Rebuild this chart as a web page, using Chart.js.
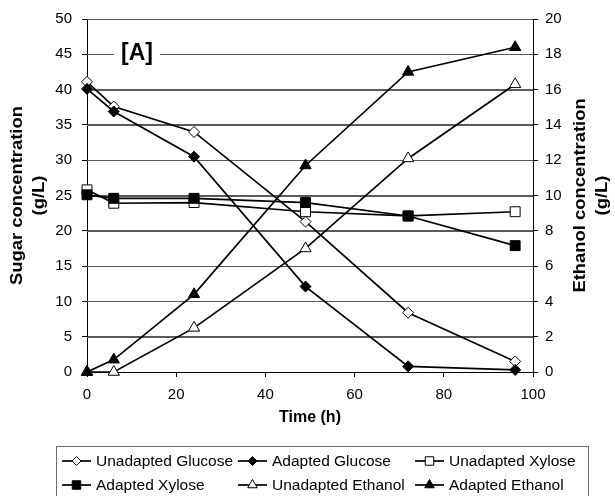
<!DOCTYPE html>
<html>
<head>
<meta charset="utf-8">
<script src="https://cdn.jsdelivr.net/npm/chart.js@4"></script>
<style>
  html, body { margin: 0; padding: 0; background: #fff; }
  #wrap { width: 615px; height: 496px; position: relative; }
</style>
</head>
<body>
<div id="wrap"><canvas id="c" width="615" height="496"></canvas></div>
<script>
// ---- data ----
const hours = [0, 6, 24, 49, 72, 96];
const unadaptedGlucose = [41.1, 37.6, 34.0, 21.3, 8.4, 1.5];
const adaptedGlucose   = [40.1, 36.9, 30.5, 12.1, 0.8, 0.3];
const unadaptedXylose  = [25.8, 23.9, 24.0, 22.7, 22.1, 22.7];
const adaptedXylose    = [25.1, 24.6, 24.6, 24.0, 22.1, 17.9];
const unadaptedEthanol = [0, 0, 2.5, 7.0, 12.1, 16.3];
const adaptedEthanol   = [0, 0.7, 4.4, 11.7, 17.0, 18.4];

const seriesLabels = ['Unadapted Glucose', 'Adapted Glucose', 'Unadapted Xylose',
                      'Adapted Xylose', 'Unadapted Ethanol', 'Adapted Ethanol'];
const timeTicks = [0, 20, 40, 60, 80, 100];
const sugarTicks = [0, 5, 10, 15, 20, 25, 30, 35, 40, 45, 50];
const ethanolTicks = [0, 2, 4, 6, 8, 10, 12, 14, 16, 18, 20];
const xTitle = 'Time (h)';
const leftTitle = ['Sugar concentration', '(g/L)'];
const rightTitle = ['Ethanol concentration', '(g/L)'];
const panelLabel = '[A]';

// ---- styling ----
const FONT = '"Liberation Sans", Arial, sans-serif';
const GRID = '#5a5a5a';
const styles = [
  { pointStyle: 'rectRot', fill: '#ffffff', radius: 5.5, legendRadius: 4.5, axis: 'y' },
  { pointStyle: 'rectRot', fill: '#000000', radius: 5.5, legendRadius: 4.5, axis: 'y' },
  { pointStyle: 'rect', fill: '#ffffff', radius: 7, legendRadius: 6, axis: 'y' },
  { pointStyle: 'rect', fill: '#000000', radius: 7, legendRadius: 6, axis: 'y' },
  { pointStyle: 'triangle', fill: '#ffffff', radius: 6.5, legendRadius: 5.5, axis: 'y1' },
  { pointStyle: 'triangle', fill: '#000000', radius: 6.5, legendRadius: 5.5, axis: 'y1' }
];
const seriesValues = [unadaptedGlucose, adaptedGlucose, unadaptedXylose,
                      adaptedXylose, unadaptedEthanol, adaptedEthanol];

const datasets = seriesValues.map((vals, i) => ({
  label: seriesLabels[i],
  data: hours.map((h, j) => ({ x: h, y: vals[j] })),
  yAxisID: styles[i].axis,
  borderColor: '#000',
  borderWidth: 1.7,
  pointStyle: styles[i].pointStyle,
  pointRadius: styles[i].radius,
  pointBackgroundColor: styles[i].fill,
  pointBorderColor: '#000',
  pointBorderWidth: 1,
  tension: 0,
  fill: false,
  clip: false,
  order: 6 - i
}));

function fixTicks(arr) {
  return function (scale) { scale.ticks = arr.map(v => ({ value: v })); };
}

// horizontal gridlines from the left scale, plus the panel label
const gridPlugin = {
  id: 'gridPlugin',
  beforeDatasetsDraw(chart) {
    const ctx = chart.ctx;
    const ca = chart.chartArea;
    const ys = chart.scales.y;
    ctx.save();
    ctx.globalAlpha = 1;
    ctx.setLineDash([]);
    ctx.globalCompositeOperation = 'source-over';
    ctx.strokeStyle = GRID;
    ctx.lineWidth = 1;
    for (const v of sugarTicks) {
      if (v === 0) continue;
      const py = Math.round(ys.getPixelForValue(v)) + 0.5;
      ctx.beginPath();
      ctx.moveTo(ca.left, py);
      ctx.lineTo(ca.right, py);
      ctx.stroke();
    }
    ctx.font = 'bold 23px ' + FONT;
    ctx.textAlign = 'center';
    ctx.textBaseline = 'middle';
    const yLabel = ys.getPixelForValue(45);
    const lw = ctx.measureText(panelLabel).width;
    ctx.fillStyle = '#fff';
    ctx.fillRect(137 - lw / 2 - 7, yLabel - 14, lw + 14, 28);
    ctx.fillStyle = '#000';
    ctx.fillText(panelLabel, 137, yLabel - 1);
    ctx.restore();
  }
};

const overlay = {
  id: 'overlay',
  afterDraw(chart) {
    const ctx = chart.ctx;
    const ca = chart.chartArea;
    ctx.save();
    ctx.fillStyle = '#000';
    ctx.textAlign = 'center';
    ctx.textBaseline = 'middle';

    ctx.font = 'bold 16px ' + FONT;
    ctx.fillText(xTitle, (ca.left + ca.right) / 2, 418);

    const cy = (ca.top + ca.bottom) / 2;
    const rotText = (txt, x) => {
      ctx.save();
      ctx.translate(x, cy);
      ctx.rotate(-Math.PI / 2);
      ctx.scale(1.15, 1);
      ctx.fillText(txt, 0, 0);
      ctx.restore();
    };
    rotText(leftTitle[0], 18);
    rotText(leftTitle[1], 40);
    rotText(rightTitle[0], 581);
    rotText(rightTitle[1], 603);

    ctx.strokeStyle = '#6e6e6e';
    ctx.lineWidth = 1;
    ctx.strokeRect(56.5, 446.5, 532, 60);
    const colLine = [62, 238, 415];
    const rowY = [461, 485];
    ctx.font = '15.5px ' + FONT;
    ctx.textAlign = 'left';
    ctx.textBaseline = 'middle';
    for (let i = 0; i < 6; i++) {
      const col = i % 3, row = Math.floor(i / 3);
      const x0 = colLine[col], y0 = rowY[row];
      ctx.strokeStyle = '#000';
      ctx.lineWidth = 1.7;
      ctx.beginPath();
      ctx.moveTo(x0, y0);
      ctx.lineTo(x0 + 29, y0);
      ctx.stroke();
      ctx.fillStyle = styles[i].fill;
      ctx.strokeStyle = '#000';
      ctx.lineWidth = 1;
      Chart.helpers.drawPoint(ctx, {
        pointStyle: styles[i].pointStyle,
        radius: styles[i].legendRadius,
        rotation: 0,
        borderWidth: 1
      }, x0 + 14.5, y0);
      ctx.fillStyle = '#000';
      ctx.fillText(seriesLabels[i], x0 + 34, y0 + 0.5);
    }
    ctx.restore();
  }
};

new Chart(document.getElementById('c'), {
  type: 'line',
  data: { datasets },
  options: {
    responsive: false,
    animation: false,
    events: [],
    layout: { padding: { top: 16, left: 0, right: 0, bottom: 0 } },
    plugins: { legend: { display: false }, tooltip: { enabled: false }, title: { display: false } },
    scales: {
      x: {
        type: 'linear',
        min: 0, max: 100,
        afterBuildTicks: fixTicks(timeTicks),
        afterFit(s) { s.height = 124; },
        grid: { drawOnChartArea: false, tickLength: 5, tickColor: '#000', tickWidth: 1 },
        border: { color: '#000', width: 1 },
        ticks: { color: '#000', font: { family: FONT, size: 15 }, padding: 9, maxRotation: 0 }
      },
      y: {
        position: 'left',
        min: 0, max: 50,
        afterBuildTicks: fixTicks(sugarTicks),
        afterFit(s) { s.width = 87; },
        grid: { drawOnChartArea: true, color: GRID, lineWidth: 1, tickLength: 5, tickColor: '#000' },
        border: { color: '#000', width: 1 },
        ticks: { color: '#000', font: { family: FONT, size: 15 }, padding: 10 }
      },
      y1: {
        position: 'right',
        min: 0, max: 20,
        afterBuildTicks: fixTicks(ethanolTicks),
        afterFit(s) { s.width = 82; },
        grid: { drawOnChartArea: false, tickLength: 5, tickColor: '#000' },
        border: { color: '#000', width: 1 },
        ticks: { color: '#000', font: { family: FONT, size: 15 }, padding: 7 }
      }
    }
  },
  plugins: [gridPlugin, overlay]
});
</script>
</body>
</html>
